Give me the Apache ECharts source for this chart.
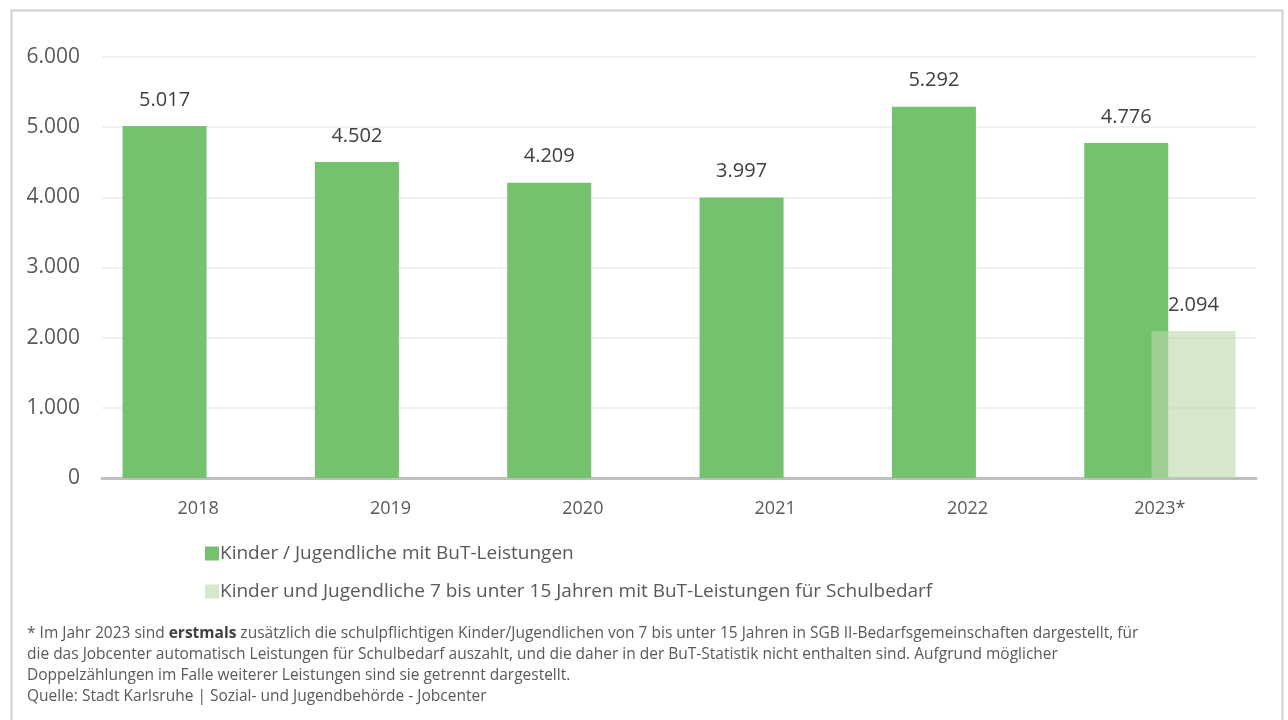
<!DOCTYPE html>
<html><head><meta charset="utf-8">
<script src="https://cdn.jsdelivr.net/npm/echarts@6/dist/echarts.min.js"></script>
<style>html,body{margin:0;padding:0;background:#fff}#c{width:1288px;height:720px}</style>
</head><body><div id="c"></div>
<script>
const categories = ['2018','2019','2020','2021','2022','2023*'];
const seriesMain = [5017, 4502, 4209, 3997, 5292, 4776];
const seriesSchool = [null, null, null, null, null, 2094];
const seriesNames = ['Kinder / Jugendliche mit BuT-Leistungen', 'Kinder und Jugendliche 7 bis unter 15 Jahren mit BuT-Leistungen für Schulbedarf'];
const yTicks = [0, 1000, 2000, 3000, 4000, 5000, 6000];
const footLines = [
  '* Im Jahr 2023 sind {b|erstmals} zusätzlich die schulpflichtigen Kinder/Jugendlichen von 7 bis unter 15 Jahren in SGB II-Bedarfsgemeinschaften dargestellt, für',
  'die das Jobcenter automatisch Leistungen für Schulbedarf auszahlt, und die daher in der BuT-Statistik nicht enthalten sind. Aufgrund möglicher',
  'Doppelzählungen im Falle weiterer Leistungen sind sie getrennt dargestellt.',
  'Quelle: Stadt Karlsruhe | Sozial- und Jugendbehörde - Jobcenter'
];
const fmt = v => String(v).replace(/\B(?=(\d{3})+(?!\d))/g, '.');
const FONT = '"Open Sans", sans-serif';
const chart = echarts.init(document.getElementById('c'));
chart.setOption({
  animation: false,
  textStyle: {fontFamily: FONT},
  grid: {left: 102, right: 32, top: 57, height: 421},
  legend: {
    orient: 'vertical', left: 200, top: 539, itemGap: 19,
    itemWidth: 14, itemHeight: 14, icon: 'rect',
    textStyle: {fontSize: 19, color: '#595959', fontFamily: FONT, padding: [0,0,0,-4]},
    data: seriesNames
  },
  xAxis: {
    type: 'category', data: categories,
    axisLine: {lineStyle: {color: '#bfbfbf', width: 3}},
    axisTick: {show: false},
    axisLabel: {fontSize: 18, color: '#595959', margin: 22, fontFamily: FONT}
  },
  yAxis: {
    type: 'value', min: yTicks[0], max: yTicks[yTicks.length-1], interval: 1000,
    axisLine: {show: false}, axisTick: {show: false},
    splitLine: {lineStyle: {color: '#f0f0f0', width: 2}},
    axisLabel: {fontSize: 21, color: '#595959', margin: 22, formatter: v => fmt(v), fontFamily: FONT}
  },
  series: [
    {
      name: seriesNames[0], type: 'bar', data: seriesMain,
      barWidth: 84, barGap: '-20%',
      itemStyle: {color: '#74c16e'},
      label: {show: true, position: 'top', distance: 16, fontSize: 20, color: '#404040', formatter: p => fmt(p.value), fontFamily: FONT}
    },
    {
      name: seriesNames[1], type: 'bar', data: seriesSchool,
      barWidth: 84,
      itemStyle: {color: 'rgba(185,217,170,0.6)'},
      label: {show: true, position: 'top', distance: 16, fontSize: 20, color: '#404040', formatter: p => fmt(p.value), fontFamily: FONT}
    }
  ],
  graphic: [
    {type: 'rect', left: 9, top: 8, shape: {width: 1271, height: 730}, style: {fill: 'none', stroke: '#cfcfcf', lineWidth: 2}, silent: true},
    {type: 'text', left: 27, top: 623, style: {
      text: footLines.join('\n'), fontSize: 15.5, lineHeight: 21, fill: '#595959', fontFamily: FONT,
      rich: {b: {fontWeight: 'bold', fontSize: 15.5, fill: '#404040', fontFamily: FONT, lineHeight: 21}}
    }}
  ]
});
</script></body></html>
